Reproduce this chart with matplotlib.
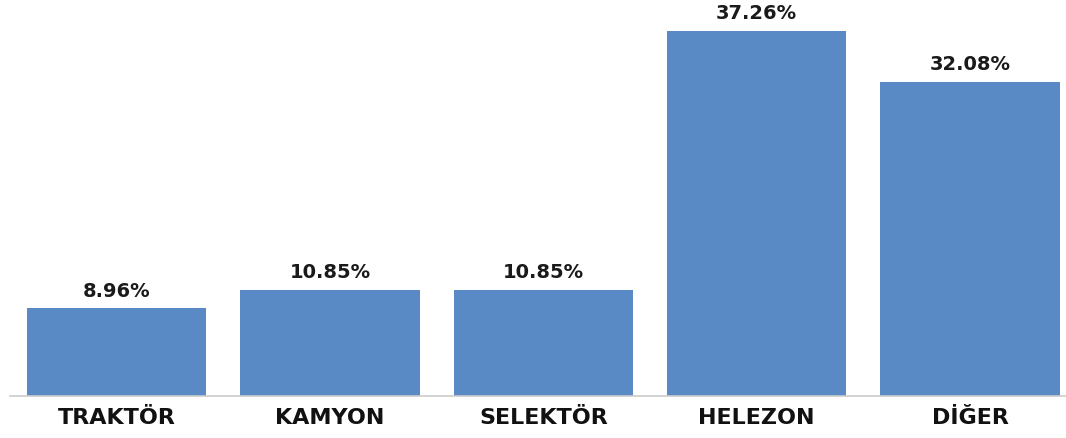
import matplotlib
matplotlib.use("Agg")
import matplotlib.pyplot as plt

# --- DATA ---
categories = ["TRAKTÖR", "KAMYON", "SELEKTÖR", "HELEZON", "DİĞER"]
values = [8.96, 10.85, 10.85, 37.26, 32.08]
value_labels = ["8.96%", "10.85%", "10.85%", "37.26%", "32.08%"]

bar_color = "#5a8ac6"

# --- PLOT ---
fig = plt.figure(figsize=(10.66, 4.39), dpi=100)
ax = fig.add_axes([10 / 1066, 42 / 439, 1 - 10 / 1066, 1 - 42 / 439])

x = range(len(categories))
bars = ax.bar(x, values, width=0.84, color=bar_color, zorder=2)

for b, lab in zip(bars, value_labels):
    ax.annotate(lab, (b.get_x() + b.get_width() / 2, b.get_height()),
                xytext=(0, 6), textcoords="offset points",
                ha="center", va="bottom", fontsize=14, fontweight="bold",
                color="#1a1a1a", family="DejaVu Sans")

ax.set_xlim(-0.5, 4.45)
ax.set_ylim(0, 40.5)
ax.set_xticks(list(x))
ax.set_xticklabels(categories, fontsize=16, fontweight="bold",
                   color="#111111", family="DejaVu Sans")
ax.tick_params(axis="x", length=0, pad=8)
ax.set_yticks([])

# --- FORMATTING ---
for side in ["top", "right", "left"]:
    ax.spines[side].set_visible(False)
ax.spines["bottom"].set_color("#cccccc")
ax.spines["bottom"].set_linewidth(1.2)

fig.savefig("out.png", dpi=100)
